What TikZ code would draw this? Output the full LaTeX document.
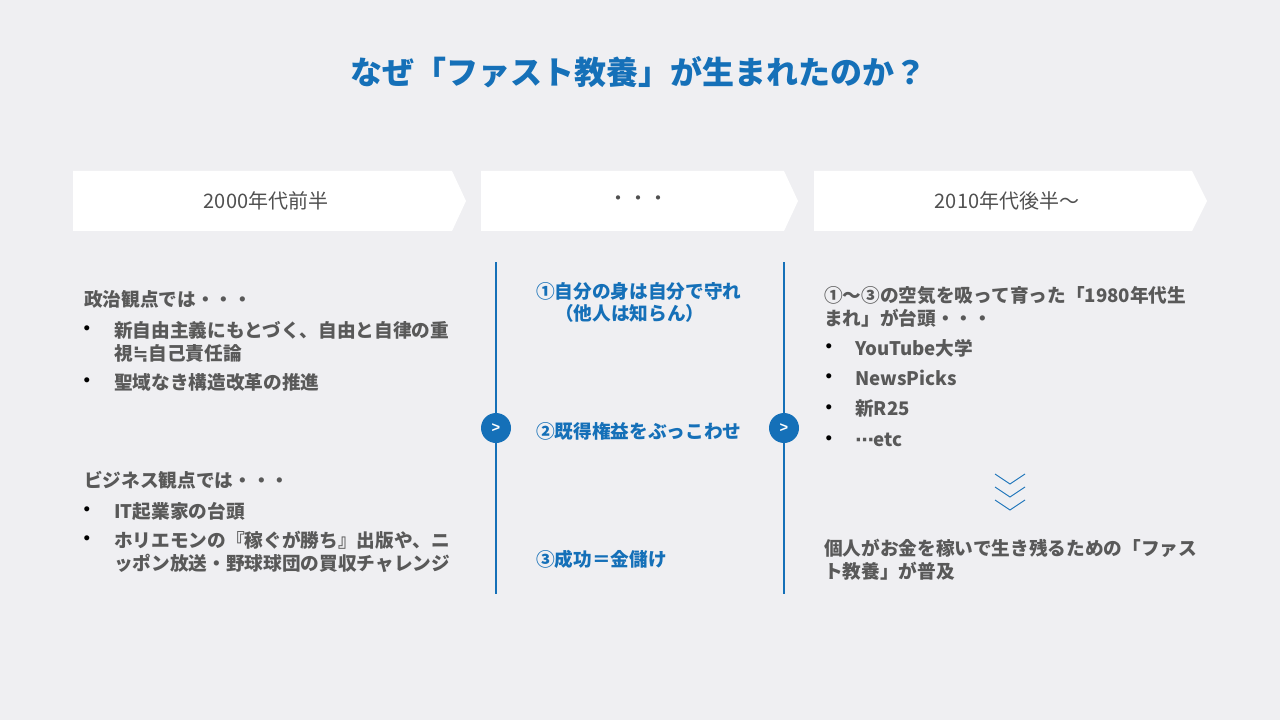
\documentclass[tikz,border=0pt]{standalone}
\usepackage{fontspec}
\newfontfamily\jp{Noto Sans CJK JP}
\newfontfamily\lib{Liberation Sans}
\newfontfamily\dvs{DejaVu Sans}
\definecolor{bg}{HTML}{EFEFF2}
\definecolor{blu}{HTML}{1570B8}
\definecolor{txt}{HTML}{595959}
\begin{document}
\begin{tikzpicture}[x=0.75pt,y=-0.75pt,
  title/.style={font=\jp\bfseries\fontsize{24pt}{28pt}\selectfont, text=blu, inner sep=0},
  head/.style={font=\jp\fontsize{15pt}{18pt}\selectfont, text=txt!90!black, inner sep=0},
  body/.style={font=\jp\bfseries\fontsize{14pt}{17pt}\selectfont, text=txt, anchor=west, inner sep=0},
  mid/.style={font=\jp\bfseries\fontsize{14pt}{17pt}\selectfont, text=blu, anchor=west, inner sep=0},
  bul/.style={font=\lib\fontsize{14pt}{14pt}\selectfont, text=black, inner sep=0},
  circ/.style={circle, fill=blu, minimum size=30*0.75pt, inner sep=0, text=white, font=\lib\bfseries\fontsize{11pt}{12pt}\selectfont},
  vline/.style={draw=blu, line width=1.5pt},
  chev/.style={draw=blu, line width=0.7pt}
]
\fill[bg] (0,0) rectangle (1280,720);
\useasboundingbox (0,0) rectangle (1280,720);

\node[title] (t) at (638,72) {なぜ「ファスト教養」が生まれたのか？};

% header chevrons
\fill[white] (73,171) -- (452,171) -- (466,201) -- (452,231) -- (73,231) -- cycle;
\fill[white] (481,171) -- (784,171) -- (798,201) -- (784,231) -- (481,231) -- cycle;
\fill[white] (814,171) -- (1192,171) -- (1207,201) -- (1192,231) -- (814,231) -- cycle;
\node[head] (h1) at (266,201) {2000年代前半};
\node[head] (h2) at (638,201) {・・・};
\node[head] (h3) at (1007,201) {2010年代後半～};

% vertical lines
\coordinate (l1t) at (496,262); \coordinate (l1b) at (496,594);
\coordinate (l2t) at (784,262); \coordinate (l2b) at (784,594);
\draw[vline] (l1t) -- (l1b);
\draw[vline] (l2t) -- (l2b);
\node[circ] (c1) at (496,428) {>};
\node[circ] (c2) at (784,428) {>};

% left column
\node[body] (p0) at (84,299) {政治観点では・・・};
\node[bul] (b1) at (87,330) {•};
\node[body] (p1) at (114,330) {新自由主義にもとづく、自由と自律の重};
\node[body] (p1b) at (114,353) {視{\dvs\bfseries ≒}自己責任論};
\node[bul] (b2) at (87,382) {•};
\node[body] (p2) at (114,382) {聖域なき構造改革の推進};
\node[body] (q0) at (84,480) {ビジネス観点では・・・};
\node[bul] (b3) at (87,511) {•};
\node[body] (q1) at (114,511) {IT起業家の台頭};
\node[bul] (b4) at (87,540) {•};
\node[body] (q2) at (114,540) {ホリエモンの『稼ぐが勝ち』出版や、ニ};
\node[body] (q2b) at (114,563) {ッポン放送・野球球団の買収チャレンジ};

% middle column
\node[mid] (m1) at (536,291) {①自分の身は自分で守れ};
\node[mid] (m1b) at (555,313) {（他人は知らん）};
\node[mid] (m2) at (536,431) {②既得権益をぶっこわせ};
\node[mid] (m3) at (536,559) {③成功＝金儲け};

% right column
\node[body] (r0) at (824,296) {①～③の空気を吸って育った「1980年代生};
\node[body] (r0b) at (824,318) {まれ」が台頭・・・};
\node[bul] (rb1) at (829,348) {•};
\node[body] (r1) at (855,348) {YouTube大学};
\node[bul] (rb2) at (829,378) {•};
\node[body] (r2) at (855,378) {NewsPicks};
\node[bul] (rb3) at (829,409) {•};
\node[body] (r3) at (855,409) {新R25};
\node[bul] (rb4) at (829,440) {•};
\node[body] (r4) at (855,440) {{\dvs\bfseries ⋯}etc};

% triple chevron
\draw[chev] (995,474) -- (1010,484) -- (1025,474);
\draw[chev] (995,487) -- (1010,497) -- (1025,487);
\draw[chev] (995,500) -- (1010,510) -- (1025,500);

\node[body] (s1) at (824,548) {個人がお金を稼いで生き残るための「ファス};
\node[body] (s2) at (824,571) {ト教養」が普及};
\end{tikzpicture}
\end{document}
